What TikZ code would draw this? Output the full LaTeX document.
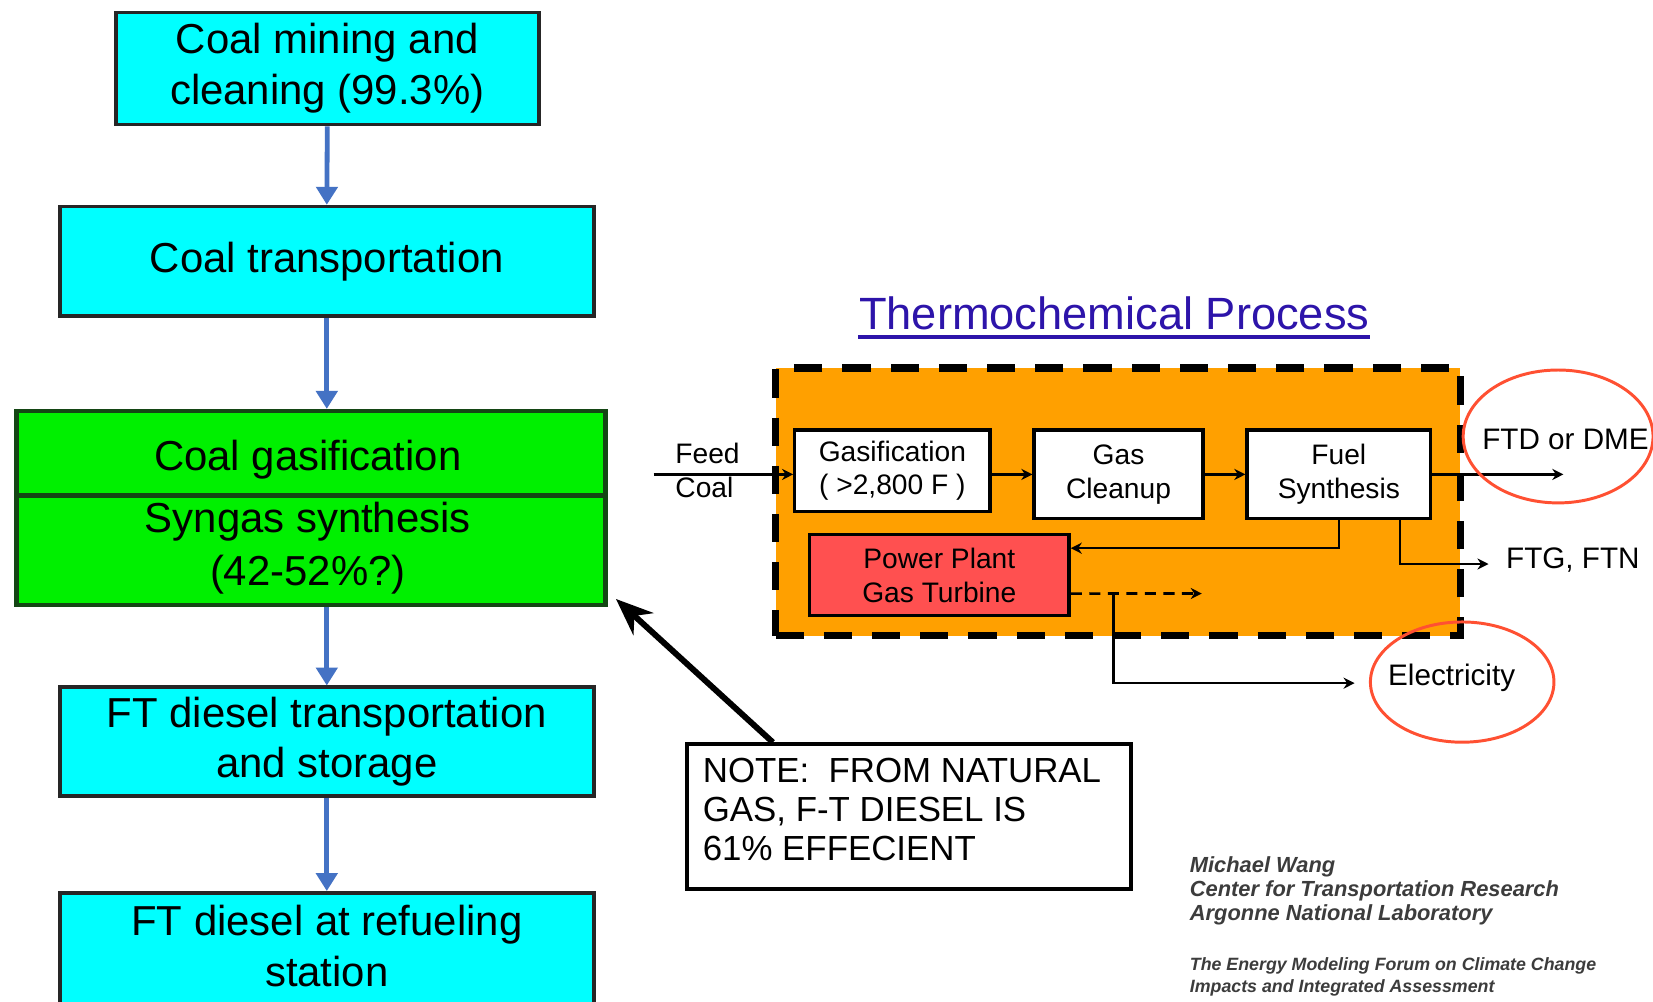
\documentclass[tikz,border=0pt]{standalone}
\usepackage{fontspec}
\setmainfont{Liberation Sans}
\usetikzlibrary{arrows.meta,shapes.geometric,calc}

\definecolor{boxcyan}{RGB}{0,255,255}
\definecolor{boxgreen}{RGB}{0,240,0}
\definecolor{gasedge}{RGB}{20,70,20}
\definecolor{flowblue}{RGB}{68,114,196}
\definecolor{plantorange}{RGB}{255,160,0}
\definecolor{turbinered}{RGB}{255,80,80}
\definecolor{ringred}{RGB}{255,80,50}
\definecolor{titleblue}{RGB}{45,20,170}
\definecolor{creditgray}{RGB}{60,60,60}

\begin{document}
\begin{tikzpicture}[x=0.01cm,y=-0.01cm,
  stagebox/.style={draw=black!85, line width=1pt, fill=boxcyan, inner sep=0pt,
    align=center, font=\fontsize{11.3}{13.7}\selectfont},
  gasbox/.style={draw=gasedge, line width=1.2pt, fill=boxgreen, inner sep=0pt},
  divider/.style={draw=gasedge, line width=1.2pt},
  stagetext/.style={inner sep=0pt, align=center, font=\fontsize{11.3}{13.7}\selectfont},
  flow/.style={draw=flowblue, line width=1.3pt, -{Triangle[width=0.2cm,length=0.17cm]}},
  pointer/.style={draw=black, line width=1.6pt, -{Stealth[length=10pt,width=8pt]}},
  notebox/.style={draw=black, line width=1pt, fill=white},
  notetext/.style={inner sep=0pt, align=left, font=\fontsize{9.4}{10.6}\selectfont},
  titletext/.style={inner sep=0pt, text=titleblue, font=\fontsize{12.2}{14}\selectfont},
  plantbox/.style={draw=black, line width=2pt, dash pattern=on 7.6pt off 5.4pt, fill=plantorange},
  unitbox/.style={draw=black, line width=0.9pt, fill=white, inner sep=0pt,
    align=center, font=\fontsize{7.6}{9.1}\selectfont},
  link/.style={draw=black, line width=0.7pt, -{Stealth[length=3pt,width=3pt]}},
  ring/.style={draw=ringred, line width=0.8pt, ellipse, inner sep=0pt},
  outlabel/.style={inner sep=0pt, font=\fontsize{8}{9.6}\selectfont},
  credit/.style={inner sep=0pt, align=left, text=creditgray,
    font=\fontsize{5.9}{6.4}\selectfont\bfseries\itshape},
  creditsmall/.style={inner sep=0pt, align=left, text=creditgray,
    font=\fontsize{4.8}{5.7}\selectfont\bfseries\itshape}
]
\clip (0,0) rectangle (1568,950);
\fill[white] (0,0) rectangle (1568,950);

% ---- coal-to-diesel pathway ----
\node[stagebox, minimum width=4.01cm, minimum height=1.06cm] (mining) at (310.5,65)
  {Coal mining and\\cleaning (99.3\%)};
\node[stagebox, minimum width=5.06cm, minimum height=1.04cm] (coaltrans) at (310,248)
  {Coal transportation};
\node[gasbox, minimum width=5.58cm, minimum height=1.84cm] (gasif) at (295,482) {};
\draw[divider] ([yshift=0.12cm]gasif.west) -- ([yshift=0.12cm]gasif.east);
\node[stagetext] (gasiftext) at (292,436) {Coal gasification};
\node[stagetext, font=\fontsize{11.3}{14.2}\selectfont] (syntext) at (292,520)
  {Syngas synthesis\\(42-52\%?)};
\node[stagebox, minimum width=5.06cm, minimum height=1.03cm] (ftstore) at (310,703.5)
  {FT diesel transportation\\and storage};
\node[stagebox, minimum width=5.06cm, minimum height=1.15cm] (ftpump) at (310,904.5) {};
\node[stagetext] (ftpumptext) at (310,897) {FT diesel at refueling\\station};

\draw[flow] (mining.south) -- (coaltrans.north);
\draw[flow] (coaltrans.south) -- (coaltrans.south |- gasif.north);
\draw[flow] (coaltrans.south |- gasif.south) -- (ftstore.north);
\draw[flow] (ftstore.south) -- (ftpump.north);

% ---- note ----
\node[notebox, minimum width=4.21cm, minimum height=1.37cm] (note) at (862.5,774.5) {};
\node[notetext, anchor=north west] (notetext) at (666,718)
  {NOTE:\ \ FROM NATURAL\\GAS, F-T DIESEL IS\\61\% EFFECIENT};
\draw[pointer] ([xshift=0.83cm]note.north west) -- ([shift={(0.08cm,0.08cm)}]gasif.south east);

% ---- thermochemical process ----
\node[titletext] (title) at (1057,297) {Thermochemical Process};
\draw[titleblue, line width=1pt] ([yshift=-0.06cm]title.south west) -- ([yshift=-0.06cm]title.south east);

\node[plantbox, minimum width=6.49cm, minimum height=2.54cm] (plant) at (1060.5,476) {};

\node[unitbox, minimum width=1.85cm, minimum height=0.77cm] (gasifier) at (846.5,446.5)
  {Gasification\\( >2,800 F )};
\node[unitbox, minimum width=1.60cm, minimum height=0.84cm] (cleanup) at (1061,450)
  {Gas\\Cleanup};
\node[unitbox, minimum width=1.74cm, minimum height=0.84cm] (fuelsyn) at (1270,450)
  {Fuel\\Synthesis};
\node[unitbox, fill=turbinered, minimum width=2.46cm, minimum height=0.77cm] (turbine) at (891,545.5)
  {Power Plant\\Gas Turbine};

\coordinate (feedstart) at (620,450);
\node[outlabel, anchor=west, align=left, font=\fontsize{7.6}{9.1}\selectfont] (feedlabel) at (640,446) {Feed\\Coal};
\draw[link] (feedstart) -- (feedstart -| gasifier.west);
\draw[link] (gasifier.east |- cleanup.west) -- (cleanup.west);
\draw[link] (cleanup.east) -- (fuelsyn.west);

\coordinate (ftdend) at (1483,450);
\draw[link] (fuelsyn.east) -- (ftdend);
\draw[link] (fuelsyn.south) |- ([yshift=0.255cm]turbine.east);
\coordinate (ftgend) at (1412,535);
\draw[link] ([xshift=0.58cm]fuelsyn.south) |- (ftgend);

\coordinate (tap) at (1056,563);
\coordinate (dashend) at (1140,563);
\coordinate (elend) at (1285,648);
\draw[link, dash pattern=on 3pt off 2pt] ([yshift=-0.175cm]turbine.east) -- (dashend);
\draw[link] (tap) |- (elend);

\node[outlabel] (ftdlabel) at (1485,417) {FTD or DME};
\node[outlabel, anchor=west] (ftglabel) at (1428,531) {FTG, FTN};
\node[outlabel] (ellabel) at (1377,643) {Electricity};
\node[ring, minimum width=1.8cm, minimum height=1.26cm] (ftdring) at (1478,414) {};
\node[ring, minimum width=1.74cm, minimum height=1.14cm] (elring) at (1387,647) {};

% ---- credits ----
\node[credit, anchor=north west] (author) at (1128,812)
  {Michael Wang\\Center for Transportation Research\\Argonne National Laboratory};
\node[creditsmall, anchor=north west] (forum) at (1128,908)
  {The Energy Modeling Forum on Climate Change\\Impacts and Integrated Assessment};
\end{tikzpicture}
\end{document}
